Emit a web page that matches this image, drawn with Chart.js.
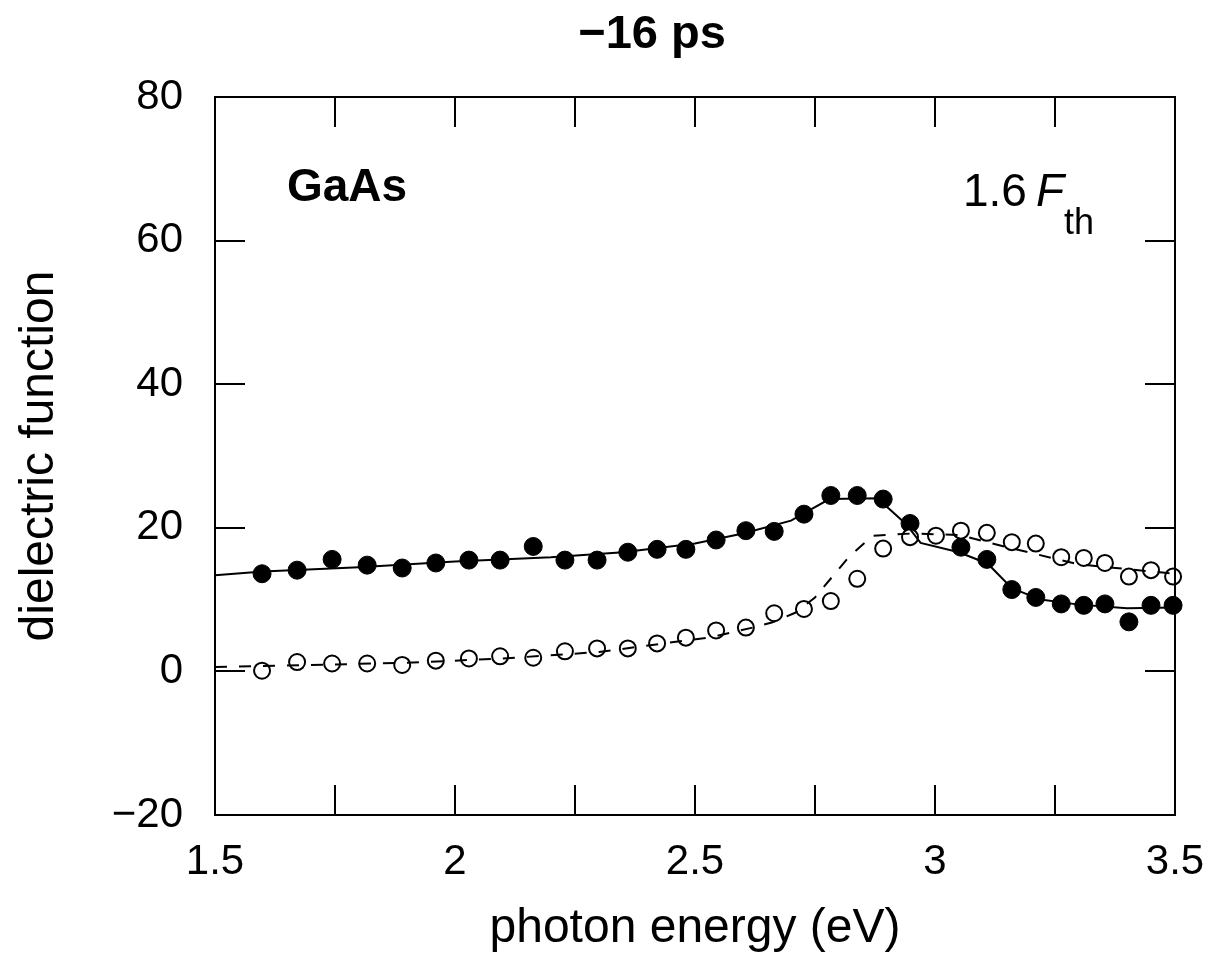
<!DOCTYPE html>
<html>
<head>
<meta charset="utf-8">
<script src="https://cdn.jsdelivr.net/npm/chart.js@4.4.1/dist/chart.umd.min.js"></script>
<style>
  html, body { margin: 0; padding: 0; background: #fff; }
  #wrap { width: 1212px; height: 954px; }
</style>
</head>
<body>
<div id="wrap"><canvas id="ctx"></canvas></div>
<script>
// photon energies (eV) of the measured points
const energy = [1.598, 1.671, 1.744, 1.817, 1.890, 1.960, 2.029, 2.094, 2.163, 2.229, 2.296,
  2.360, 2.421, 2.481, 2.544, 2.606, 2.665, 2.727, 2.783, 2.838, 2.892, 2.948, 3.002, 3.054,
  3.108, 3.160, 3.210, 3.263, 3.310, 3.354, 3.404, 3.450, 3.496];
// filled circles
const filledVals = [13.6, 14.1, 15.6, 14.8, 14.4, 15.1, 15.5, 15.5, 17.4, 15.5, 15.5, 16.6, 17.0,
  17.0, 18.3, 19.6, 19.5, 21.9, 24.5, 24.5, 24.0, 20.6, null, 17.3, 15.6, 11.4, 10.3, 9.4, 9.2,
  9.4, 6.9, 9.2, 9.2];
// open circles
const openVals = [0.1, 1.3, 1.1, 1.1, 0.9, 1.5, 1.8, 2.1, 1.9, 2.8, 3.2, 3.2, 3.9, 4.7, 5.7, 6.1,
  8.1, 8.7, 9.8, 12.9, 17.1, 18.7, 18.9, 19.6, 19.3, 18.0, 17.8, 15.9, 15.8, 15.1, 13.2, 14.1, 13.2];

// fitted curves
const fitFilledE = [1.5, 1.6, 1.8, 2.0, 2.2, 2.35, 2.5, 2.6, 2.7, 2.78, 2.88, 2.94, 2.97, 3.05, 3.11,
  3.16, 3.22, 3.3, 3.4, 3.5];
const fitFilledVals = [13.4, 13.9, 14.5, 15.3, 15.9, 16.6, 17.8, 19.2, 21.0, 24.0, 24.1, 20.5, 17.9,
  16.6, 15.0, 11.6, 10.0, 9.3, 8.8, 8.9];
const fitOpenE = [1.5, 1.7, 1.9, 2.1, 2.3, 2.48, 2.53, 2.62, 2.66, 2.71, 2.75, 2.82, 2.87, 2.95,
  3.05, 3.15, 3.3, 3.5];
const fitOpenVals = [0.6, 0.9, 1.2, 1.8, 2.7, 4.3, 4.7, 6.1, 6.8, 8.2, 10.3, 15.9, 18.9, 19.2, 19.0,
  17.3, 14.9, 13.6];

const xTicks = [1.5, 2, 2.5, 3, 3.5];
const xMinorTicks = [1.75, 2, 2.25, 2.5, 2.75, 3, 3.25];
const yTicks = [-20, 0, 20, 40, 60, 80];

const FONT = '"Liberation Sans", Arial, sans-serif';

const toXY = (xs, ys) => xs.map((x, i) => ({ x, y: ys[i] }));

// box, inward ticks, labels inside the plot
const framePlugin = {
  id: 'frame',
  afterDraw(chart) {
    const { ctx, chartArea: a, scales: { x, y } } = chart;
    const tl = 30;
    ctx.save();
    ctx.strokeStyle = '#000';
    ctx.lineWidth = 2;
    ctx.beginPath();
    ctx.moveTo(a.left, a.top); ctx.lineTo(a.right, a.top); ctx.lineTo(a.right, a.bottom);
    xMinorTicks.forEach((v) => {
      const px = Math.round(x.getPixelForValue(v));
      ctx.moveTo(px, a.bottom); ctx.lineTo(px, a.bottom - tl);
      ctx.moveTo(px, a.top); ctx.lineTo(px, a.top + tl);
    });
    yTicks.slice(1, -1).forEach((v) => {
      const py = Math.round(y.getPixelForValue(v));
      ctx.moveTo(a.left, py); ctx.lineTo(a.left + tl, py);
      ctx.moveTo(a.right, py); ctx.lineTo(a.right - tl, py);
    });
    ctx.stroke();

    ctx.fillStyle = '#000';
    ctx.textBaseline = 'alphabetic';
    ctx.textAlign = 'center';
    ctx.font = 'bold 47px ' + FONT;
    ctx.fillText('\u221216 ps', 652, 48);
    ctx.textAlign = 'left';
    ctx.font = 'bold 46px ' + FONT;
    ctx.fillText('GaAs', 287, 201);
    ctx.font = '46px ' + FONT;
    ctx.fillText('1.6', 963, 206);
    ctx.font = 'italic 46px ' + FONT;
    ctx.fillText('F', 1036, 206);
    ctx.font = '36px ' + FONT;
    ctx.fillText('th', 1064, 234);
    ctx.restore();
  },
};

new Chart(document.getElementById('ctx').getContext('2d'), {
  type: 'scatter',
  data: {
    datasets: [
      {
        type: 'line',
        data: toXY(fitOpenE, fitOpenVals),
        borderColor: '#000',
        borderWidth: 2,
        borderDash: [12, 12],
        pointRadius: 0,
        fill: false,
        tension: 0,
      },
      {
        type: 'line',
        data: toXY(fitFilledE, fitFilledVals),
        borderColor: '#000',
        borderWidth: 2,
        pointRadius: 0,
        fill: false,
        tension: 0,
      },
      {
        data: toXY(energy, openVals),
        pointRadius: 8,
        pointBackgroundColor: '#fff',
        pointBorderColor: '#000',
        pointBorderWidth: 2,
        clip: false,
      },
      {
        data: toXY(energy, filledVals),
        pointRadius: 9,
        pointBackgroundColor: '#000',
        pointBorderColor: '#000',
        pointBorderWidth: 1,
        clip: false,
      },
    ],
  },
  options: {
    responsive: true,
    maintainAspectRatio: false,
    animation: false,
    layout: { padding: { top: 97, right: 37, left: 0, bottom: 0 } },
    plugins: {
      legend: { display: false },
      tooltip: { enabled: false },
    },
    scales: {
      x: {
        type: 'linear',
        min: 1.5,
        max: 3.5,
        afterFit(scale) {
          scale.height = 139;
          scale.paddingLeft = 0;
          scale.paddingRight = 0;
        },
        afterBuildTicks(scale) { scale.ticks = xTicks.map(v => ({ value: v })); },
        grid: { display: false, drawTicks: false },
        border: { display: true, color: '#000', width: 2 },
        ticks: {
          padding: 22,
          color: '#000',
          font: { family: FONT, size: 42 },
          maxRotation: 0,
          callback: v => String(v),
        },
        title: {
          display: true,
          text: 'photon energy (eV)',
          color: '#000',
          font: { family: FONT, size: 48, lineHeight: 1 },
          padding: { top: 0, bottom: 1 },
        },
      },
      y: {
        type: 'linear',
        min: -20,
        max: 80,
        afterFit(scale) {
          scale.width = 215;
          scale.paddingTop = 0;
          scale.paddingBottom = 0;
        },
        afterBuildTicks(scale) { scale.ticks = yTicks.map(v => ({ value: v })); },
        grid: { display: false, drawTicks: false },
        border: { display: true, color: '#000', width: 2 },
        ticks: {
          padding: 32,
          color: '#000',
          font: { family: FONT, size: 42 },
          callback: v => String(v).replace('-', '\u2212'),
        },
        title: {
          display: true,
          text: 'dielectric function',
          color: '#000',
          font: { family: FONT, size: 48, lineHeight: 1 },
          padding: { top: 16, bottom: 0 },
        },
      },
    },
  },
  plugins: [framePlugin],
});
</script>
</body>
</html>
